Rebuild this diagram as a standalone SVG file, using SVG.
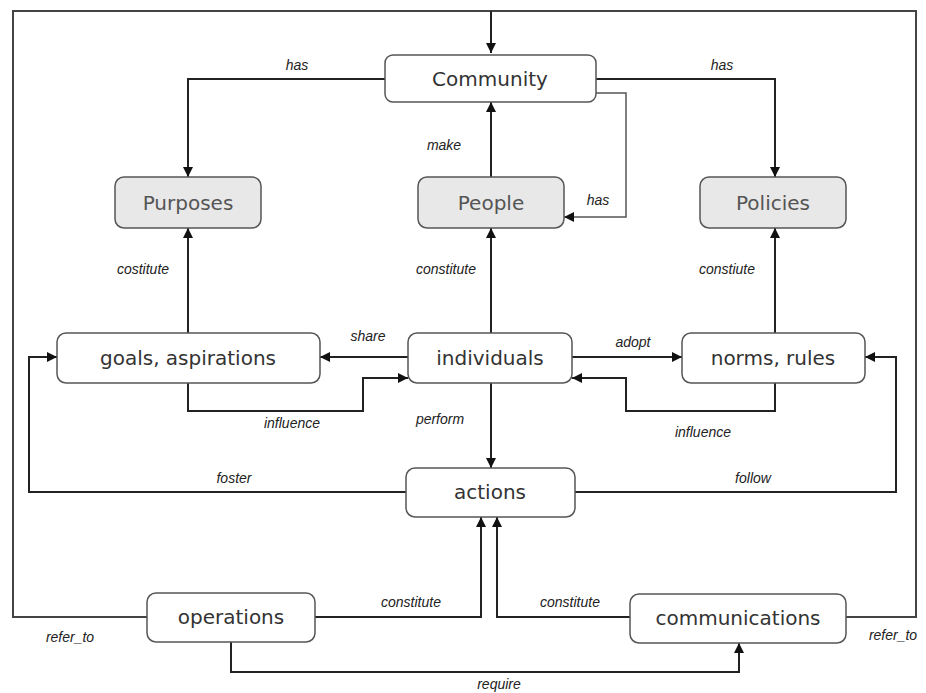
<svg xmlns="http://www.w3.org/2000/svg" width="926" height="693" viewBox="0 0 926 693">
  <defs>
    <marker id="arr" viewBox="0 0 10 10" refX="10" refY="5" markerWidth="10" markerHeight="10" markerUnits="userSpaceOnUse" orient="auto">
      <path d="M0,0 L10,5 L0,10 Z" fill="#111"/>
    </marker>
  </defs>
  <style>
    .box { fill: #ffffff; stroke: #555; stroke-width: 1.5; }
    .gbox { fill: #e8e8e8; stroke: #555; stroke-width: 1.5; }
    .nt { font-family: "DejaVu Sans", sans-serif; font-size: 20px; fill: #333; text-anchor: middle; dominant-baseline: central; }
    .gt { fill: #555; }
    .ln { fill: none; stroke: #222; stroke-width: 2; }
    .frame { fill: none; stroke: #444; stroke-width: 2; }
    .thin { fill: none; stroke: #555; stroke-width: 1.5; }
    .lab { font-family: "Liberation Sans", Arial, sans-serif; font-style: italic; font-size: 14px; fill: #222; text-anchor: middle; }
  </style>
  <rect width="926" height="693" fill="#ffffff"/>

  <g id="connectors">
    <!-- outer frame: refer_to loops back into Community -->
    <path class="frame" d="M147,617 H13 V11 H916 V617 H846"/>
    <path class="ln" d="M491,11 V53" marker-end="url(#arr)"/>
    <!-- has -->
    <path class="ln" d="M385,79 H188 V177" marker-end="url(#arr)"/>
    <path class="ln" d="M596,79 H775 V177" marker-end="url(#arr)"/>
    <path class="thin" d="M596,93 H626 V217 H564" marker-end="url(#arr)"/>
    <!-- make -->
    <path class="ln" d="M491,177 V102" marker-end="url(#arr)"/>
    <!-- constitute -->
    <path class="ln" d="M188,333 V228" marker-end="url(#arr)"/>
    <path class="ln" d="M491,333 V228" marker-end="url(#arr)"/>
    <path class="ln" d="M775,333 V228" marker-end="url(#arr)"/>
    <!-- share / adopt -->
    <path class="ln" d="M408,357 H320" marker-end="url(#arr)"/>
    <path class="ln" d="M572,357 H682" marker-end="url(#arr)"/>
    <!-- influence -->
    <path class="ln" d="M188,383 V411 H363 V378 H408" marker-end="url(#arr)"/>
    <path class="ln" d="M775,383 V411 H626 V378 H572" marker-end="url(#arr)"/>
    <!-- perform -->
    <path class="ln" d="M491,383 V468" marker-end="url(#arr)"/>
    <!-- foster / follow -->
    <path class="ln" d="M406,492 H29 V357 H57" marker-end="url(#arr)"/>
    <path class="ln" d="M575,492 H896 V357 H865" marker-end="url(#arr)"/>
    <!-- constitute actions -->
    <path class="ln" d="M315,617 H481 V517" marker-end="url(#arr)"/>
    <path class="ln" d="M630,617 H497 V517" marker-end="url(#arr)"/>
    <!-- require -->
    <path class="ln" d="M231,642 V672 H739 V643" marker-end="url(#arr)"/>
  </g>

  <g id="labels">
    <text class="lab" x="297" y="70">has</text>
    <text class="lab" x="722" y="70">has</text>
    <text class="lab" x="598" y="205">has</text>
    <text class="lab" x="444" y="150">make</text>
    <text class="lab" x="143" y="274">costitute</text>
    <text class="lab" x="446" y="274">constitute</text>
    <text class="lab" x="727" y="274">constiute</text>
    <text class="lab" x="368" y="341">share</text>
    <text class="lab" x="633" y="347">adopt</text>
    <text class="lab" x="292" y="428">influence</text>
    <text class="lab" x="703" y="437">influence</text>
    <text class="lab" x="440" y="424">perform</text>
    <text class="lab" x="234" y="483">foster</text>
    <text class="lab" x="753" y="483">follow</text>
    <text class="lab" x="411" y="607">constitute</text>
    <text class="lab" x="570" y="607">constitute</text>
    <text class="lab" x="499" y="689">require</text>
    <text class="lab" x="70" y="642">refer_to</text>
    <text class="lab" x="893" y="640">refer_to</text>
  </g>

  <g id="community">
    <rect class="box" x="385" y="55" width="211" height="47" rx="8"/>
    <text class="nt" x="490" y="79">Community</text>
  </g>
  <g id="purposes">
    <rect class="gbox" x="115" y="177" width="146" height="51" rx="9"/>
    <text class="nt gt" x="188" y="203">Purposes</text>
  </g>
  <g id="people">
    <rect class="gbox" x="418" y="177" width="146" height="51" rx="9"/>
    <text class="nt gt" x="491" y="203">People</text>
  </g>
  <g id="policies">
    <rect class="gbox" x="700" y="177" width="146" height="51" rx="9"/>
    <text class="nt gt" x="773" y="203">Policies</text>
  </g>
  <g id="goals">
    <rect class="box" x="57" y="333" width="263" height="50" rx="9"/>
    <text class="nt" x="188" y="358">goals, aspirations</text>
  </g>
  <g id="individuals">
    <rect class="box" x="408" y="333" width="164" height="50" rx="9"/>
    <text class="nt" x="490" y="358">individuals</text>
  </g>
  <g id="norms">
    <rect class="box" x="682" y="333" width="183" height="50" rx="9"/>
    <text class="nt" x="773" y="358">norms, rules</text>
  </g>
  <g id="actions">
    <rect class="box" x="406" y="468" width="169" height="49" rx="9"/>
    <text class="nt" x="490" y="492">actions</text>
  </g>
  <g id="operations">
    <rect class="box" x="147" y="593" width="168" height="49" rx="9"/>
    <text class="nt" x="231" y="617">operations</text>
  </g>
  <g id="communications">
    <rect class="box" x="630" y="594" width="216" height="49" rx="9"/>
    <text class="nt" x="738" y="618">communications</text>
  </g>
</svg>
